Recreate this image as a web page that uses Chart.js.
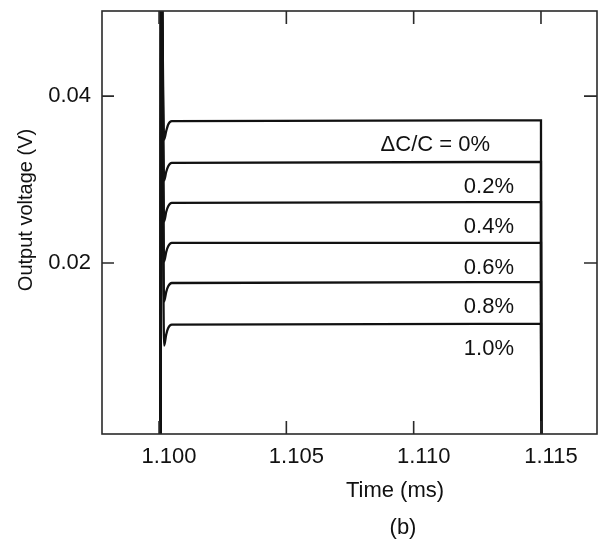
<!DOCTYPE html>
<html>
<head>
<meta charset="utf-8">
<title>Output voltage vs time</title>
<script src="https://cdn.jsdelivr.net/npm/chart.js@4.4.1/dist/chart.umd.min.js"></script>
<style>
  html, body { margin: 0; padding: 0; background: #fff; }
  #wrap { width: 601px; height: 544px; }
</style>
</head>
<body>
<div id="wrap"><canvas id="voltChart"></canvas></div>
<script>
// time points (ms), shared by every curve
const times = [1.10006, 1.10008, 1.10020, 1.10028, 1.10036, 1.10050, 1.11500, 1.11501];

// output voltage (V) for each capacitance mismatch
const v00 = [-0.005, 0.060, 0.0348, 0.0358, 0.0366, 0.0370, 0.0371, -0.005];
const v02 = [-0.005, 0.060, 0.0299, 0.0309, 0.0316, 0.0320, 0.0321, -0.005];
const v04 = [-0.005, 0.060, 0.0250, 0.0261, 0.0268, 0.0272, 0.0273, -0.005];
const v06 = [-0.005, 0.060, 0.0202, 0.0213, 0.0220, 0.0224, 0.0224, -0.005];
const v08 = [-0.005, 0.060, 0.0154, 0.0165, 0.0172, 0.0176, 0.0177, -0.005];
const v10 = [-0.005, 0.060, 0.0101, 0.0114, 0.0122, 0.0126, 0.0127, -0.005];

const curveLabels = ['ΔC/C = 0%', '0.2%', '0.4%', '0.6%', '0.8%', '1.0%'];
const xTicks = [1.100, 1.105, 1.110, 1.115];
const yTicks = [0.02, 0.04];

const FONT = '"Liberation Sans", Arial, Helvetica, sans-serif';

// frame, inward ticks, curve labels and axis titles
const framePlugin = {
    id: 'frame',
    afterDatasetsDraw(chart) {
        const { ctx, chartArea: a, scales: { x, y } } = chart;
        ctx.save();
        ctx.strokeStyle = '#2a2a2a';
        ctx.lineWidth = 1.6;
        ctx.strokeRect(a.left, a.top, a.right - a.left, a.bottom - a.top);
        ctx.beginPath();
        xTicks.forEach(t => {
            const px = x.getPixelForValue(t);
            ctx.moveTo(px, a.bottom); ctx.lineTo(px, a.bottom - 13);
            ctx.moveTo(px, a.top); ctx.lineTo(px, a.top + 13);
        });
        yTicks.forEach(t => {
            const py = y.getPixelForValue(t);
            ctx.moveTo(a.left, py); ctx.lineTo(a.left + 12, py);
            ctx.moveTo(a.right, py); ctx.lineTo(a.right - 13, py);
        });
        ctx.stroke();

        ctx.fillStyle = '#111';
        ctx.font = '22px ' + FONT;
        ctx.textAlign = 'right';
        ctx.textBaseline = 'middle';
        chart.data.datasets.forEach((ds, i) => {
            const py = y.getPixelForValue(ds.data[6].y) + 25;
            const px = i === 0 ? a.right - 107 : a.right - 83;
            ctx.fillText(ds.label, px, py);
        });

        ctx.textAlign = 'center';
        ctx.fillText('Time (ms)', a.left + 293, a.bottom + 57);
        ctx.fillText('(b)', a.left + 301, a.bottom + 94);

        ctx.font = '20px ' + FONT;
        ctx.translate(26, a.top + 199);
        ctx.rotate(-Math.PI / 2);
        ctx.fillText('Output voltage (V)', 0, 0);
        ctx.restore();
    }
};

const series = [v00, v02, v04, v06, v08, v10];

new Chart(document.getElementById('voltChart'), {
    type: 'line',
    data: {
        datasets: series.map((vals, i) => ({
            label: curveLabels[i],
            data: times.map((t, j) => ({ x: t, y: vals[j] })),
            borderColor: '#111',
            borderWidth: 2.3,
            pointRadius: 0,
            cubicInterpolationMode: 'monotone',
            fill: false
        }))
    },
    options: {
        responsive: true,
        maintainAspectRatio: false,
        animation: false,
        layout: { padding: { left: 4, right: 4, top: 11, bottom: 0 } },
        plugins: { legend: { display: false }, tooltip: { enabled: false } },
        scales: {
            x: {
                type: 'linear',
                min: 1.09776,
                max: 1.1172,
                grid: { display: false, drawTicks: false },
                border: { display: false },
                afterBuildTicks: s => { s.ticks = xTicks.map(v => ({ value: v })); },
                afterFit: s => { s.height = 110; s.paddingLeft = 0; s.paddingRight = 0; },
                ticks: {
                    color: '#111',
                    font: { family: FONT, size: 22 },
                    padding: 10,
                    labelOffset: 10,
                    maxRotation: 0,
                    autoSkip: false,
                    callback: v => v.toFixed(3)
                }
            },
            y: {
                min: -0.0005,
                max: 0.0502,
                grid: { display: false, drawTicks: false },
                border: { display: false },
                afterBuildTicks: s => { s.ticks = yTicks.map(v => ({ value: v })); },
                afterFit: s => { s.width = 98; s.paddingTop = 0; s.paddingBottom = 0; },
                ticks: {
                    color: '#111',
                    font: { family: FONT, size: 22 },
                    padding: 11,
                    callback: v => v.toFixed(2)
                }
            }
        }
    },
    plugins: [framePlugin]
});
</script>
</body>
</html>
